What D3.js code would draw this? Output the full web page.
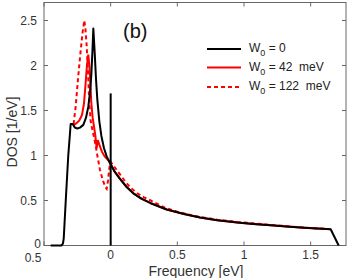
<!DOCTYPE html>
<html lang="en">
<head>
<meta charset="utf-8" />
<title>DOS (b)</title>
<style>
  html,body{margin:0;padding:0;background:#fff;}
  svg{display:block;font-family:"Liberation Sans",Arial,sans-serif;}
  .tick-label{fill:#333;font-size:12px;}
  .axis-title{fill:#333;font-size:14px;}
</style>
</head>
<body>
<svg id="chart" width="354" height="278"></svg>
<script src="https://d3js.org/d3.v7.min.js"></script>
<script>
// ---- data ----
const xTicks = [-0.5, 0, 0.5, 1, 1.5];
const xTickLabels = ["0.5", "0", "0.5", "1", "1.5"];
const yTicks = [0, 0.5, 1, 1.5, 2, 2.5];
const yTickLabels = ["0", "0.5", "1", "1.5", "2", "2.5"];

// W0 = 0 (black)
const dosW0 = [
  [-0.45,0],[-0.37,0],[-0.358,0.02],[-0.352,0.08],[-0.335,0.55],[-0.318,1.0],[-0.305,1.25],[-0.3,1.35],
  [-0.285,1.35],[-0.268,1.31],[-0.25,1.30],[-0.23,1.31],[-0.205,1.34],[-0.185,1.42],[-0.168,1.54],
  [-0.155,1.7],[-0.145,1.9],[-0.137,2.15],[-0.13,2.41],[-0.12,2.15],[-0.11,1.85],[-0.1,1.62],
  [-0.085,1.38],[-0.07,1.22],[-0.05,1.08],[-0.03,0.99],[0,0.9],[0.03,0.82],[0.07,0.74],[0.12,0.65],
  [0.17,0.58],[0.23,0.52],[0.3,0.47],[0.42,0.4],[0.55,0.35],[0.67,0.31],[0.8,0.28],[0.95,0.255],
  [1.07,0.24],[1.2,0.225],[1.32,0.21],[1.45,0.196],[1.55,0.188],[1.65,0.18],[1.71,0]
];
// impurity delta at zero frequency (black)
const deltaPeak = [[0,0],[0,1.69]];

// W0 = 42 meV (red solid)
const dosW42 = [
  [-0.275,1.34],[-0.255,1.36],[-0.235,1.39],[-0.215,1.45],[-0.2,1.58],[-0.188,1.8],[-0.178,2.0],
  [-0.168,2.12],[-0.16,2.0],[-0.152,1.8],[-0.145,1.58],[-0.135,1.42],[-0.125,1.32],[-0.115,1.22],
  [-0.105,1.08],[-0.097,1.17],[-0.085,1.12],[-0.065,1.04],[-0.045,0.99],[-0.02,0.95],[0,0.91],
  [0.03,0.82],[0.07,0.74],[0.12,0.65],[0.17,0.58],[0.23,0.52],[0.3,0.47],[0.42,0.4],[0.55,0.35],
  [0.67,0.31],[0.8,0.28],[0.95,0.255],[1.07,0.24],[1.2,0.225],[1.32,0.21],[1.45,0.196],[1.55,0.188],[1.65,0.18]
];

// W0 = 122 meV (red dashed)
const dosW122 = [
  [-0.278,1.35],[-0.262,1.55],[-0.245,1.85],[-0.228,2.12],[-0.212,2.35],[-0.198,2.5],[-0.19,2.42],
  [-0.18,2.22],[-0.17,1.92],[-0.16,1.58],[-0.15,1.38],[-0.135,1.27],[-0.12,1.17],[-0.1,1.0],
  [-0.08,0.84],[-0.06,0.73],[-0.04,0.65],[-0.03,0.63],[-0.02,0.72],[-0.01,0.86],[0,0.93],
  [0.02,0.89],[0.05,0.83],[0.1,0.73],[0.15,0.64],[0.2,0.58],[0.25,0.535],[0.3,0.5],[0.4,0.425],
  [0.5,0.375],[0.6,0.338],[0.7,0.31],[0.8,0.287],[0.95,0.262],[1.07,0.246],[1.2,0.23],[1.32,0.214],
  [1.45,0.2],[1.55,0.19],[1.64,0.182]
];

const legendLabels = ["0", "42  meV", "122  meV"];

// ---- layout ----
const svg = d3.select('#chart');
const plot = {left:44, right:346, top:2.5, bottom:245.5};
const x = d3.scaleLinear().domain([-0.5, 1.765]).range([plot.left, plot.right]);
const y = d3.scaleLinear().domain([0, 2.7]).range([plot.bottom, plot.top]);
const axisColor = '#666';

// frame
svg.append('rect')
  .attr('x', plot.left).attr('y', plot.top)
  .attr('width', plot.right-plot.left).attr('height', plot.bottom-plot.top)
  .attr('fill','none').attr('stroke',axisColor).attr('stroke-width',1);

// inward ticks on all sides
const tl = 4;
xTicks.forEach(v=>{
  svg.append('line').attr('x1',x(v)).attr('x2',x(v)).attr('y1',plot.bottom).attr('y2',plot.bottom-tl).attr('stroke',axisColor);
  svg.append('line').attr('x1',x(v)).attr('x2',x(v)).attr('y1',plot.top).attr('y2',plot.top+tl).attr('stroke',axisColor);
});
yTicks.forEach(v=>{
  svg.append('line').attr('y1',y(v)).attr('y2',y(v)).attr('x1',plot.left).attr('x2',plot.left+tl).attr('stroke',axisColor);
  svg.append('line').attr('y1',y(v)).attr('y2',y(v)).attr('x1',plot.right).attr('x2',plot.right-tl).attr('stroke',axisColor);
});

// tick labels
svg.selectAll('text.xl').data(xTicks).enter().append('text')
  .attr('class','tick-label xl')
  .attr('x',(d,i)=> i===0 ? x(d)-11 : x(d))
  .attr('y',(d,i)=> i===0 ? 262 : 259)
  .attr('text-anchor','middle')
  .text((d,i)=>xTickLabels[i]);
svg.selectAll('text.yl').data(yTicks).enter().append('text')
  .attr('class','tick-label yl')
  .attr('x',(d,i)=> i===0 ? 41 : 37).attr('y',(d,i)=> i===0 ? y(d)-2 : y(d)).attr('dy','0.35em')
  .attr('text-anchor','end')
  .text((d,i)=>yTickLabels[i]);

// axis titles
svg.append('text').attr('class','axis-title')
  .attr('x',196).attr('y',276).attr('text-anchor','middle').text('Frequency [eV]');
svg.append('text').attr('class','axis-title')
  .attr('transform','translate(17,132) rotate(-90)').attr('text-anchor','middle').text('DOS [1/eV]');

// curves
const line = d3.line().x(d=>x(d[0])).y(d=>y(d[1]));
const g = svg.append('g');
g.append('path').datum(dosW42).attr('d',line).attr('fill','none').attr('stroke','#ff0000').attr('stroke-width',2);
g.append('path').datum(dosW122).attr('d',line).attr('fill','none').attr('stroke','#ff0000').attr('stroke-width',2).attr('stroke-dasharray','4,3');
g.append('path').datum(dosW0).attr('d',line).attr('fill','none').attr('stroke','#000').attr('stroke-width',2).attr('stroke-linejoin','round');
g.append('path').datum(deltaPeak).attr('d',line).attr('fill','none').attr('stroke','#000').attr('stroke-width',2);

// panel label
svg.append('text').attr('x',123).attr('y',38).attr('font-size','20px').attr('fill','#111').text('(b)');

// legend
const legendStyles = [
  {stroke:'#000', dash:null},
  {stroke:'#ff0000', dash:null},
  {stroke:'#ff0000', dash:'4,3'}
];
const legendY = [49, 67.5, 87];
legendLabels.forEach((lab,i)=>{
  const ly = legendY[i];
  svg.append('line').attr('x1',207).attr('x2',241).attr('y1',ly).attr('y2',ly)
    .attr('stroke',legendStyles[i].stroke).attr('stroke-width',2)
    .attr('stroke-dasharray',legendStyles[i].dash);
  const t = svg.append('text').attr('x',249).attr('y',ly+3).attr('font-size','12px').attr('fill','#222')
    .attr('xml:space','preserve').style('white-space','pre');
  t.append('tspan').text('W');
  t.append('tspan').attr('dy',4).attr('font-size','9px').text('0');
  t.append('tspan').attr('dy',-4).text(' = ' + lab);
});
</script>
</body>
</html>
